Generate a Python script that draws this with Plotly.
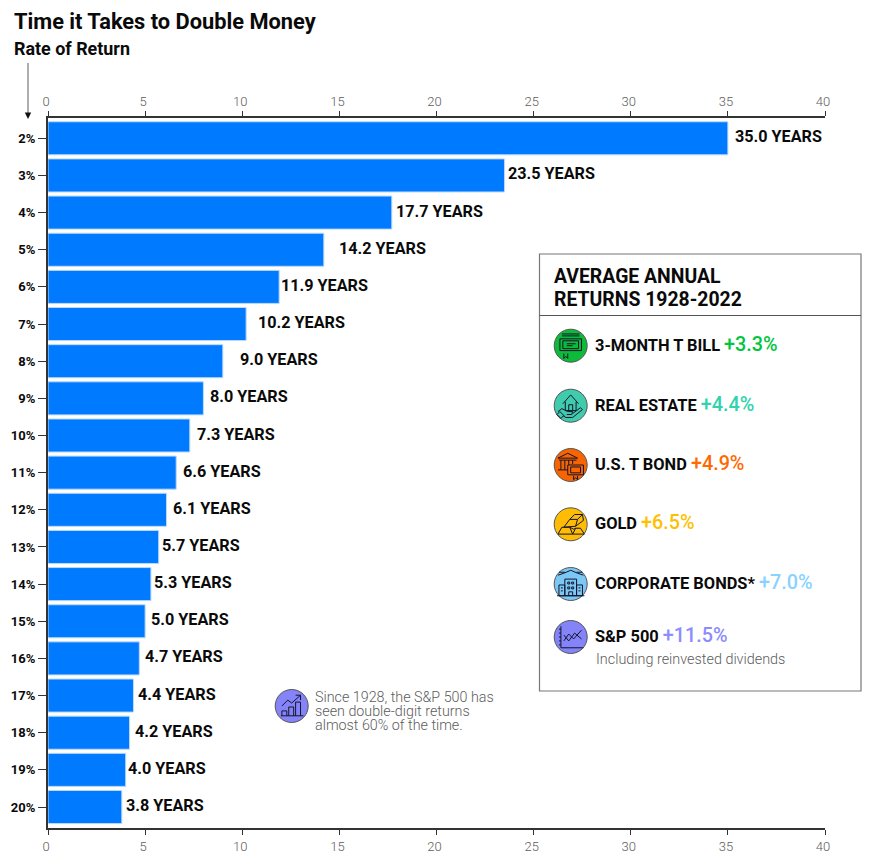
import re
import plotly.graph_objects as go

W, H = 891, 866

# Chart data
rates = ["2%", "3%", "4%", "5%", "6%", "7%", "8%", "9%", "10%", "11%",
         "12%", "13%", "14%", "15%", "16%", "17%", "18%", "19%", "20%"]
years = [35.0, 23.5, 17.7, 14.2, 11.9, 10.2, 9.0, 8.0, 7.3, 6.6,
         6.1, 5.7, 5.3, 5.0, 4.7, 4.4, 4.2, 4.0, 3.8]
x_ticks = [0, 5, 10, 15, 20, 25, 30, 35, 40]

# Sidebar data
asset_names = ["3-MONTH T BILL", "REAL ESTATE", "U.S. T BOND", "GOLD",
               "CORPORATE BONDS*", "S&P 500"]
asset_returns = ["+3.3%", "+4.4%", "+4.9%", "+6.5%", "+7.0%", "+11.5%"]
asset_colors = ["#00C63E", "#2FD3AE", "#FF6A00", "#FFBF00", "#8AD2FF", "#8C8CFF"]
asset_rows = [345.7, 405.7, 465, 524.3, 584, 637]

# Hand-set gaps between bar end and its value label, in pixels
label_gaps = [6, 3, 3, 14, 1, 11, 16, 6, 6, 6, 6, 2, 2, 5, 5, 4, 4, 1, 3]

INK = "#0a0a0a"
GREY = "#5c5c5c"
FONT = "Roboto"


def px_y(v):
    return 1 - v / H


fig = go.Figure()

fig.add_trace(go.Bar(
    y=rates, x=years, orientation="h",
    marker=dict(color="#007BFF", line=dict(color="#BBD9FF", width=1)),
    width=0.89, hoverinfo="skip", xaxis="x", yaxis="y",
))
# Invisible trace so the mirrored top axis is kept alive
fig.add_trace(go.Scatter(x=[0], y=[rates[0]], mode="markers", marker=dict(opacity=0),
                         xaxis="x3", yaxis="y", showlegend=False, hoverinfo="skip"))

axis_common = dict(
    range=[0, 40], tickvals=x_ticks, ticks="outside", ticklen=5, tickwidth=1,
    tickcolor="#333333", showline=True, linecolor="#333333", linewidth=2,
    showgrid=False, zeroline=False,
    tickfont=dict(family=FONT, size=13, color=GREY, weight=300),
    ticklabelshift=-2, domain=[48 / W, 825 / W],
)

annotations = []
shapes = []


def text(x, y, s, size, color=INK, weight=None):
    annotations.append(dict(
        xref="x2", yref="y2", x=x, y=y, text=s, showarrow=False, xanchor="left",
        yanchor="middle", align="left",
        font=dict(family=FONT, size=size, color=color, **({"weight": weight} if weight else {})),
        borderpad=0))


# Value labels tied to the bar data
for rate, value, gap in zip(rates, years, label_gaps):
    annotations.append(dict(
        xref="x", yref="y", x=value, y=rate, text=f"<b>{value:.1f} YEARS</b>",
        showarrow=False, xanchor="left", xshift=gap, yshift=1.5,
        font=dict(family=FONT, size=16.2, color=INK), borderpad=0))

# Headings
text(13, 21, "<b>Time it Takes to Double Money</b>", 21.8)
text(13, 48, "<b>Rate of Return</b>", 17.9)

# Arrow down to the rate column
shapes.append(dict(type="line", xref="x2", yref="y2", x0=28, x1=28, y0=63, y1=113,
                   line=dict(color="#777777", width=1.2)))
shapes.append(dict(type="path", xref="x2", yref="y2",
                   path="M 24.8 112.5 L 31.2 112.5 L 28 119 Z", fillcolor="#111111", line_width=0))

# Sidebar box
shapes.append(dict(type="rect", xref="x2", yref="y2", x0=539.5, x1=861, y0=254, y1=691,
                   line=dict(color="#777777", width=1.2), fillcolor="white", layer="below"))
shapes.append(dict(type="line", xref="x2", yref="y2", x0=539.5, x1=861, y0=315.5, y1=315.5,
                   line=dict(color="#555555", width=1)))
text(553, 276, "<b>AVERAGE ANNUAL</b>", 19.4)
text(553, 299, "<b>RETURNS 1928-2022</b>", 19.4)


# Line glyphs drawn in a 0-32 box centred on each badge
ICONS = {
    "bill": ["M7 4 H25", "M7 6 H25",
             "M5 9 H27 V21 H5 Z", "M8 11 H24 V19 H8 Z", "M12 14 H21", "M12 16 H18",
             "M8 21 A3 3 0 1 0 14 21 A3 3 0 1 0 8 21", "M9 24 V29 L11 27 L13 29 V24"],
    "house": ["M8 14 L16 5 L24 14", "M10.5 12 V21 H21.5 V12", "M14 21 V15 H18 V21",
              "M3 22 L7 19 L13 22 H18 L17 25 H12",
              "M18 24 L26 18 L28 20 L18 28 H11 L8 26", "M2 25 L6 29 L9 26 L5 22 Z"],
    "bank": ["M3 9 L13 4 L23 9 Z", "M4 11 H22", "M6 11 V21", "M10 11 V21", "M14 11 V16", "M18 11 V15",
             "M3 21 H13", "M13 16 H29 V26 H13 Z", "M16 18 H26 V24 H16 Z",
             "M19 25 A2 2 0 1 0 23 25 A2 2 0 1 0 19 25", "M19 27 V31 L21 29 L23 31 V27"],
    "gold": ["M3 26 L7 19 H15 L18 26 Z", "M18 26 L21 20 H26 L30 26 Z",
             "M9 19 L15 11 H23 L21 18 Z", "M15 11 L20 6 H28 L23 11", "M28 6 L29 12 L21 18",
             "M15 19 L19 21 L21 20"],
    "corp": ["M3 7 L9 5 L16 2 L23 5 L29 7", "M4 4 H10", "M22 4 H28",
             "M10 11 H22 V28 H10 Z", "M4 17 H10 V28 H4 Z", "M22 17 H28 V28 H22 Z", "M2 28 H30",
             "M13 14 H15 V16 H13 Z", "M17 14 H19 V16 H17 Z", "M13 19 H15 V21 H13 Z", "M17 19 H19 V21 H17 Z",
             "M14 28 V24 H18 V28", "M6 20 H8", "M6 23 H8", "M24 20 H26", "M24 23 H26"],
    "line": ["M6 5 V27 H29", "M4 8 H6", "M4 12 H6", "M4 16 H6", "M4 20 H6", "M4 24 H6",
             "M9 20 L14 13 L19 18 L27 9", "M9 14 L14 20 L20 12 L27 18"],
    "bars": ["M5 26 H28", "M6 26 V21 H11 V26", "M13 26 V17 H18 V26", "M20 26 V12 H25 V26",
             "M6 16 L12 10 L16 13 L25 5", "M20 5 H25 V10"],
}


def place_path(d, cx, cy, r):
    """Scale a glyph path from its 0-32 box onto the canvas around (cx, cy)."""
    k = r / 16
    ox, oy = cx - r, cy - r
    parts = re.findall(r"[MLHVAZ]|-?\d+\.?\d*", d)
    out, i = [], 0
    while i < len(parts):
        p = parts[i]
        if p == "Z":
            out.append("Z")
            i += 1
        elif p in "ML":
            out.append(f"{p} {ox + float(parts[i + 1]) * k:.2f} {oy + float(parts[i + 2]) * k:.2f}")
            i += 3
        elif p == "H":
            out.append(f"H {ox + float(parts[i + 1]) * k:.2f}")
            i += 2
        elif p == "V":
            out.append(f"V {oy + float(parts[i + 1]) * k:.2f}")
            i += 2
        else:  # arc
            a = parts[i + 1:i + 8]
            out.append(f"A {float(a[0]) * k:.2f} {float(a[1]) * k:.2f} {a[2]} {a[3]} {a[4]} "
                       f"{ox + float(a[5]) * k:.2f} {oy + float(a[6]) * k:.2f}")
            i += 8
    return " ".join(out)


def badge(cx, cy, color, icon, r=16.5):
    shapes.append(dict(type="circle", xref="x2", yref="y2", x0=cx - r, x1=cx + r, y0=cy - r, y1=cy + r,
                       fillcolor=color, line=dict(color="#555555", width=1)))
    for d in ICONS[icon]:
        shapes.append(dict(type="path", xref="x2", yref="y2", path=place_path(d, cx, cy, r * 0.95),
                           line=dict(color="#14142e", width=1)))


icon_keys = ["bill", "house", "bank", "gold", "corp", "line"]
badge_colors = ["#0DBB3A", "#3FCBAC", "#F86400", "#FFBC05", "#7CC8F5", "#8484F8"]
for name, ret, color, row, key, bc in zip(asset_names, asset_returns, asset_colors,
                                          asset_rows, icon_keys, badge_colors):
    badge(570.7, row, bc, key)
    text(594, row - 1.5, f"<b>{name.replace('&', '&amp;')}</b> "
         f"<span style='font-size:19.8px;color:{color};font-weight:500'>{ret}</span>", 16.4)

text(595, 659, "Including reinvested dividends", 14.4, GREY, 300)

# Side note beside the short bars
badge(291.7, 706, "#8484F8", "bars")
text(314, 697, "Since 1928, the S&amp;P 500 has", 14.3, GREY, 300)
text(314, 711, "seen double-digit returns", 14.3, GREY, 300)
text(314, 725, "almost 60% of the time.", 14.3, GREY, 300)

fig.update_layout(
    width=W, height=H, autosize=False,
    margin=dict(l=0, r=0, t=0, b=0, autoexpand=False),
    paper_bgcolor="white", plot_bgcolor="rgba(0,0,0,0)",
    showlegend=False, barmode="overlay",
    font=dict(family=FONT),
    xaxis=dict(anchor="y", side="bottom", **axis_common),
    xaxis3=dict(anchor="y", side="top", overlaying="x", **axis_common),
    yaxis=dict(
        domain=[px_y(828), px_y(118)], type="category", categoryorder="array",
        categoryarray=rates, range=[18.565, -0.546], ticks="outside", ticklen=8, tickwidth=1,
        tickcolor="#333333", showline=True, linecolor="#333333", linewidth=2, showgrid=False,
        zeroline=False, tickfont=dict(family=FONT, size=13, color=INK, weight=700),
    ),
    # Helper axes in canvas pixels for the furniture around the chart
    xaxis2=dict(domain=[0, 1], range=[0, W], visible=False, anchor="y2", fixedrange=True),
    yaxis2=dict(domain=[0, 1], range=[H, 0], visible=False, anchor="x2", fixedrange=True),
    annotations=annotations, shapes=shapes,
)

fig.write_html("out.html", config=dict(displayModeBar=False))
